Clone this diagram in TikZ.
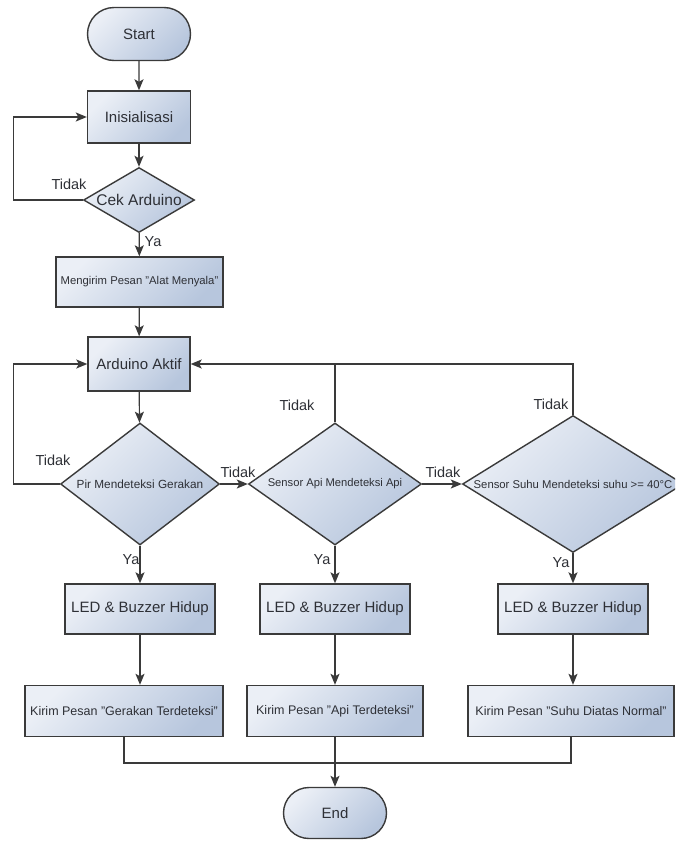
\documentclass[tikz,border=0pt]{standalone}
\usepackage{fontspec}
\setmainfont{Liberation Sans}
\usetikzlibrary{shapes.geometric,shapes.misc,arrows.meta}
\definecolor{boxlight}{HTML}{EBEFF6}
\definecolor{boxdark}{HTML}{B7C6DD}
\definecolor{edgegray}{HTML}{3A3A3A}
\definecolor{txt}{HTML}{2E3036}
\newcommand\fsz[1]{\fontsize{#1}{#1}\selectfont}
\tikzset{
  shadefill/.style={top color=boxlight, bottom color=boxdark, shading angle=45},
  procbox/.style={rectangle, draw=edgegray, line width=1.4pt, shadefill, inner sep=0pt, text=txt},
  termbox/.style={rounded rectangle, draw=edgegray, line width=1.4pt, shadefill, inner sep=0pt, text=txt, font=\fsz{15}},
  decbox/.style={diamond, draw=edgegray, line width=1.4pt, shadefill, inner sep=0pt},
  bigtext/.style={font=\fsz{15}},
  smalltext/.style={font=\fsz{11.3}},
  midtext/.style={font=\fsz{12.5}},
  lbl/.style={font=\fsz{14.5}, text=txt, inner sep=0pt},
  conn/.style={draw=edgegray, line width=1.2pt},
  arr/.style={conn, -{Stealth[length=11pt,width=9pt,inset=2.5pt]}}
}
\begin{document}
\begin{tikzpicture}[x=1pt,y=-1pt]
\clip (0,0) rectangle (675,841);
\fill[white] (0,0) rectangle (675,841);

% nodes
\node[termbox, minimum width=103, minimum height=53] (start) at (139,34) {Start};
\node[procbox, bigtext, minimum width=103, minimum height=52] (init) at (139,117) {Inisialisasi};
\node[decbox, minimum width=111, minimum height=65,
      label={[font=\fsz{15.5}, text=txt]center:Cek Arduino}] (cek) at (139,200) {};
\node[procbox, smalltext, minimum width=167, minimum height=50] (msg) at (139.5,282) {Mengirim Pesan "Alat Menyala"};
\node[procbox, bigtext, minimum width=102, minimum height=54] (aktif) at (139,364) {Arduino Aktif};

\node[decbox, minimum width=159, minimum height=122,
      label={[font=\fsz{11.8}, text=txt]center:Pir Mendeteksi Gerakan}] (pir) at (140,484) {};
\node[decbox, minimum width=173, minimum height=122,
      label={[font=\fsz{11.2}, text=txt]center:Sensor Api Mendeteksi Api}] (api) at (335,484) {};
\node[decbox, minimum width=221, minimum height=137,
      label={[font=\fsz{11.3}, text=txt]center:Sensor Suhu Mendeteksi suhu >= 40°C}] (suhu) at (573,484) {};

\node[procbox, bigtext, minimum width=150, minimum height=50] (led1) at (140,609) {LED \& Buzzer Hidup};
\node[procbox, bigtext, minimum width=150, minimum height=50] (led2) at (335,609) {LED \& Buzzer Hidup};
\node[procbox, bigtext, minimum width=150, minimum height=50] (led3) at (573,609) {LED \& Buzzer Hidup};

\node[procbox, midtext, minimum width=198, minimum height=51] (kirim1) at (124,711) {Kirim Pesan "Gerakan Terdeteksi"};
\node[procbox, midtext, minimum width=176, minimum height=51] (kirim2) at (335,711) {Kirim Pesan "Api Terdeteksi"};
\node[procbox, midtext, minimum width=206, minimum height=51] (kirim3) at (571,711) {Kirim Pesan "Suhu Diatas Normal"};

\node[termbox, minimum width=103, minimum height=51] (end) at (335,813) {End};

\coordinate (merge) at (335,763);

% connectors
\draw[arr] (start) -- (init);
\draw[arr] (init) -- (cek);
\draw[arr] (cek.west) -- ++(-69,0) |- (init.west);
\draw[arr] (cek) -- (msg);
\draw[arr] (msg) -- (aktif);
\draw[arr] (aktif) -- (pir);
\draw[arr] (pir.west) -- ++(-46,0) |- (aktif.west);
\draw[arr] (pir.east) -- (api.west);
\draw[arr] (api.east) -- (suhu.west);
\draw[arr] (suhu.north) |- (aktif.east);
\draw[conn] (api.north) -- (api.north |- aktif.east);
\draw[arr] (pir.south) -- (led1.north);
\draw[arr] (api.south) -- (led2.north);
\draw[arr] (suhu.south) -- (led3.north);
\draw[arr] (led1.south) -- (led1.south |- kirim1.north);
\draw[arr] (led2.south) -- (kirim2.north);
\draw[arr] (led3.south) -- (led3.south |- kirim3.north);
\draw[conn] (kirim1.south) |- (merge) -| (kirim3.south);
\draw[arr] (kirim2.south) -- (end.north);

% labels
\node[lbl] (t1) at (69,184) {Tidak};
\node[lbl] (y1) at (153,242) {Ya};
\node[lbl] (t2) at (53,460) {Tidak};
\node[lbl] (t3) at (238,472) {Tidak};
\node[lbl] (t4) at (297,405) {Tidak};
\node[lbl] (t5) at (443,472) {Tidak};
\node[lbl] (t6) at (551,404) {Tidak};
\node[lbl] (y2) at (131,560) {Ya};
\node[lbl] (y3) at (322,560) {Ya};
\node[lbl] (y4) at (561,563) {Ya};
\end{tikzpicture}
\end{document}
